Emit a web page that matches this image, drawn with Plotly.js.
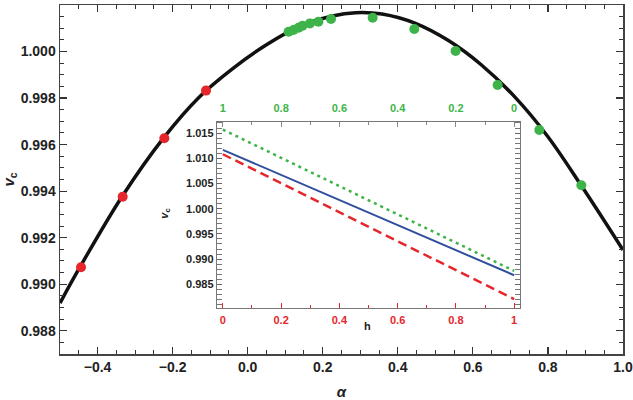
<!DOCTYPE html>
<html>
<head>
<meta charset="utf-8">
<script src="https://cdn.plot.ly/plotly-3.0.1.min.js"></script>
<style>html,body{margin:0;padding:0;background:#fff}#chart{width:633px;height:400px}</style>
</head>
<body>
<div id="chart"></div>
<script>
// Main curve (fit)
const curveAlpha = [-0.5, -0.447, -0.335, -0.225, -0.128, -0.039, 0.049, 0.137, 0.226, 0.288, 0.358, 0.447, 0.535, 0.623, 0.711, 0.800, 0.888, 1.0];
const curveV     = [0.98919, 0.99073, 0.99376, 0.99627, 0.99806, 0.99928, 1.00028, 1.00107, 1.00153, 1.00167, 1.00161, 1.00121, 1.00047, 0.99942, 0.99806, 0.99634, 0.99426, 0.99147];
// Red points
const redAlpha = [-0.444, -0.333, -0.222, -0.111];
const redV     = [0.99073, 0.99376, 0.99627, 0.99832];
// Green points
const greenAlpha = [0.109, 0.122, 0.1355, 0.146, 0.166, 0.1885, 0.222, 0.333, 0.444, 0.554, 0.666, 0.777, 0.889];
const greenV     = [1.00085, 1.000925, 1.00102, 1.00111, 1.00121, 1.00128, 1.0014, 1.00145, 1.00097, 1.00002, 0.99856, 0.99663, 0.99425];
// Inset lines (v_c vs h)
const insetH = [0, 1];
const insetGreen = [1.0157, 0.98766];
const insetBlue  = [1.01168, 0.9868];
const insetRed   = [1.0108, 0.98206];
// Tick labels
const insetBottomTicks = [0, 0.2, 0.4, 0.6, 0.8, 1];
const insetTopTickLabels = ['1', '0.8', '0.6', '0.4', '0.2', '0'];

const RED = '#e5262b', GREEN = '#3db449', BLUE = '#2f4f9e';
const F = 'Liberation Sans, Arial, sans-serif';

const traces = [
  {x: curveAlpha, y: curveV, mode: 'lines', line: {color: '#111', width: 3.5, shape: 'spline', smoothing: 1}, xaxis: 'x', yaxis: 'y', hoverinfo: 'skip'},
  {x: redAlpha, y: redV, mode: 'markers', marker: {color: RED, size: 10}, xaxis: 'x', yaxis: 'y'},
  {x: greenAlpha, y: greenV, mode: 'markers', marker: {color: GREEN, size: 10}, xaxis: 'x', yaxis: 'y'},
  {x: insetH, y: insetGreen, mode: 'lines', line: {color: GREEN, width: 2.5, dash: '3px,4px'}, xaxis: 'x2', yaxis: 'y2'},
  {x: insetH, y: insetBlue, mode: 'lines', line: {color: BLUE, width: 2}, xaxis: 'x2', yaxis: 'y2'},
  {x: insetH, y: insetRed, mode: 'lines', line: {color: RED, width: 2.5, dash: '9px,5px'}, xaxis: 'x2', yaxis: 'y2'},
  {x: [0.5], y: [1.0], xaxis: 'x3', yaxis: 'y2', mode: 'markers', marker: {opacity: 0, size: 1}}
];

const inDom = {x: [0.2789, 0.817], y: [0.1318, 0.6648]};

const layout = {
  width: 633, height: 400,
  margin: {l: 60, r: 10, t: 5, b: 46},
  showlegend: false,
  paper_bgcolor: '#fff', plot_bgcolor: '#fff',
  font: {family: F, color: '#222', weight: 'bold'},
  xaxis: {
    domain: [0, 1], range: [-0.5, 1.0], tick0: 0, dtick: 0.2, tickformat: '.1f',
    ticks: 'inside', ticklen: 7, tickwidth: 1.2, tickcolor: '#333',
    minor: {dtick: 0.05, ticks: 'inside', ticklen: 4, tickcolor: '#333', tickwidth: 1},
    showline: true, linecolor: '#444', linewidth: 1.5, mirror: 'allticks',
    showgrid: false, zeroline: false,
    tickfont: {size: 14, family: F, color: '#222', weight: 'bold'},
    title: {text: '<i>α</i>', font: {size: 15, family: F, color: '#222', weight: 'bold'}, standoff: 12}
  },
  yaxis: {
    domain: [0, 1], range: [0.987, 1.002], tick0: 0, dtick: 0.002, tickformat: '.3f',
    ticks: 'inside', ticklen: 7, tickwidth: 1.2, tickcolor: '#333',
    minor: {dtick: 0.0005, ticks: 'inside', ticklen: 4, tickcolor: '#333', tickwidth: 1},
    showline: true, linecolor: '#444', linewidth: 1.5, mirror: 'allticks',
    showgrid: false, zeroline: false,
    tickfont: {size: 14, family: F, color: '#222', weight: 'bold'},
    title: {text: '<i>v</i><sub>c</sub>', font: {size: 15, family: F, color: '#222', weight: 'bold'}, standoff: 8}
  },
  xaxis2: {
    domain: inDom.x, anchor: 'y2', range: [-0.02, 1.02], tickvals: insetBottomTicks,
    ticktext: insetBottomTicks.map(String),
    ticks: 'inside', ticklen: 5, tickwidth: 1, tickcolor: RED,
    minor: {dtick: 0.1, tick0: 0, ticks: 'inside', ticklen: 3, tickcolor: RED},
    showline: true, linecolor: '#777', linewidth: 1.2, mirror: true,
    showgrid: false, zeroline: false,
    ticklabelstandoff: 2,
    tickfont: {size: 11, family: F, color: RED, weight: 'bold'}
  },
  xaxis3: {
    overlaying: 'x2', anchor: 'y2', side: 'top', range: [-0.02, 1.02],
    tickvals: insetBottomTicks, ticktext: insetTopTickLabels,
    ticks: 'inside', ticklen: 5, tickwidth: 1, tickcolor: '#888',
    minor: {dtick: 0.1, tick0: 0, ticks: 'inside', ticklen: 3, tickcolor: '#888'},
    showline: false, showgrid: false, zeroline: false,
    ticklabelstandoff: 7,
    tickfont: {size: 11, family: F, color: GREEN, weight: 'bold'}
  },
  yaxis2: {
    domain: inDom.y, anchor: 'x2', range: [0.9803, 1.0172], tick0: 0, dtick: 0.005, tickformat: '.3f',
    ticks: 'inside', ticklen: 5, tickwidth: 1, tickcolor: '#666',
    minor: {dtick: 0.001, ticks: 'inside', ticklen: 3, tickcolor: '#777'},
    showline: true, linecolor: '#777', linewidth: 1.2, mirror: 'allticks',
    showgrid: false, zeroline: false,
    tickfont: {size: 11, family: F, color: '#222', weight: 'bold'}
  },
  annotations: [
    {text: 'h', xref: 'paper', yref: 'paper', x: 0.547, y: 0.058, showarrow: false,
     font: {size: 11, family: F, color: '#222', weight: 'bold'}},
    {text: '<i>v</i><sub>c</sub>', xref: 'paper', yref: 'paper', x: 0.17, y: 0.404, showarrow: false, textangle: -90,
     font: {size: 11, family: F, color: '#222', weight: 'bold'}}
  ]
};

Plotly.newPlot('chart', traces, layout, {staticPlot: true});
</script>
</body>
</html>
